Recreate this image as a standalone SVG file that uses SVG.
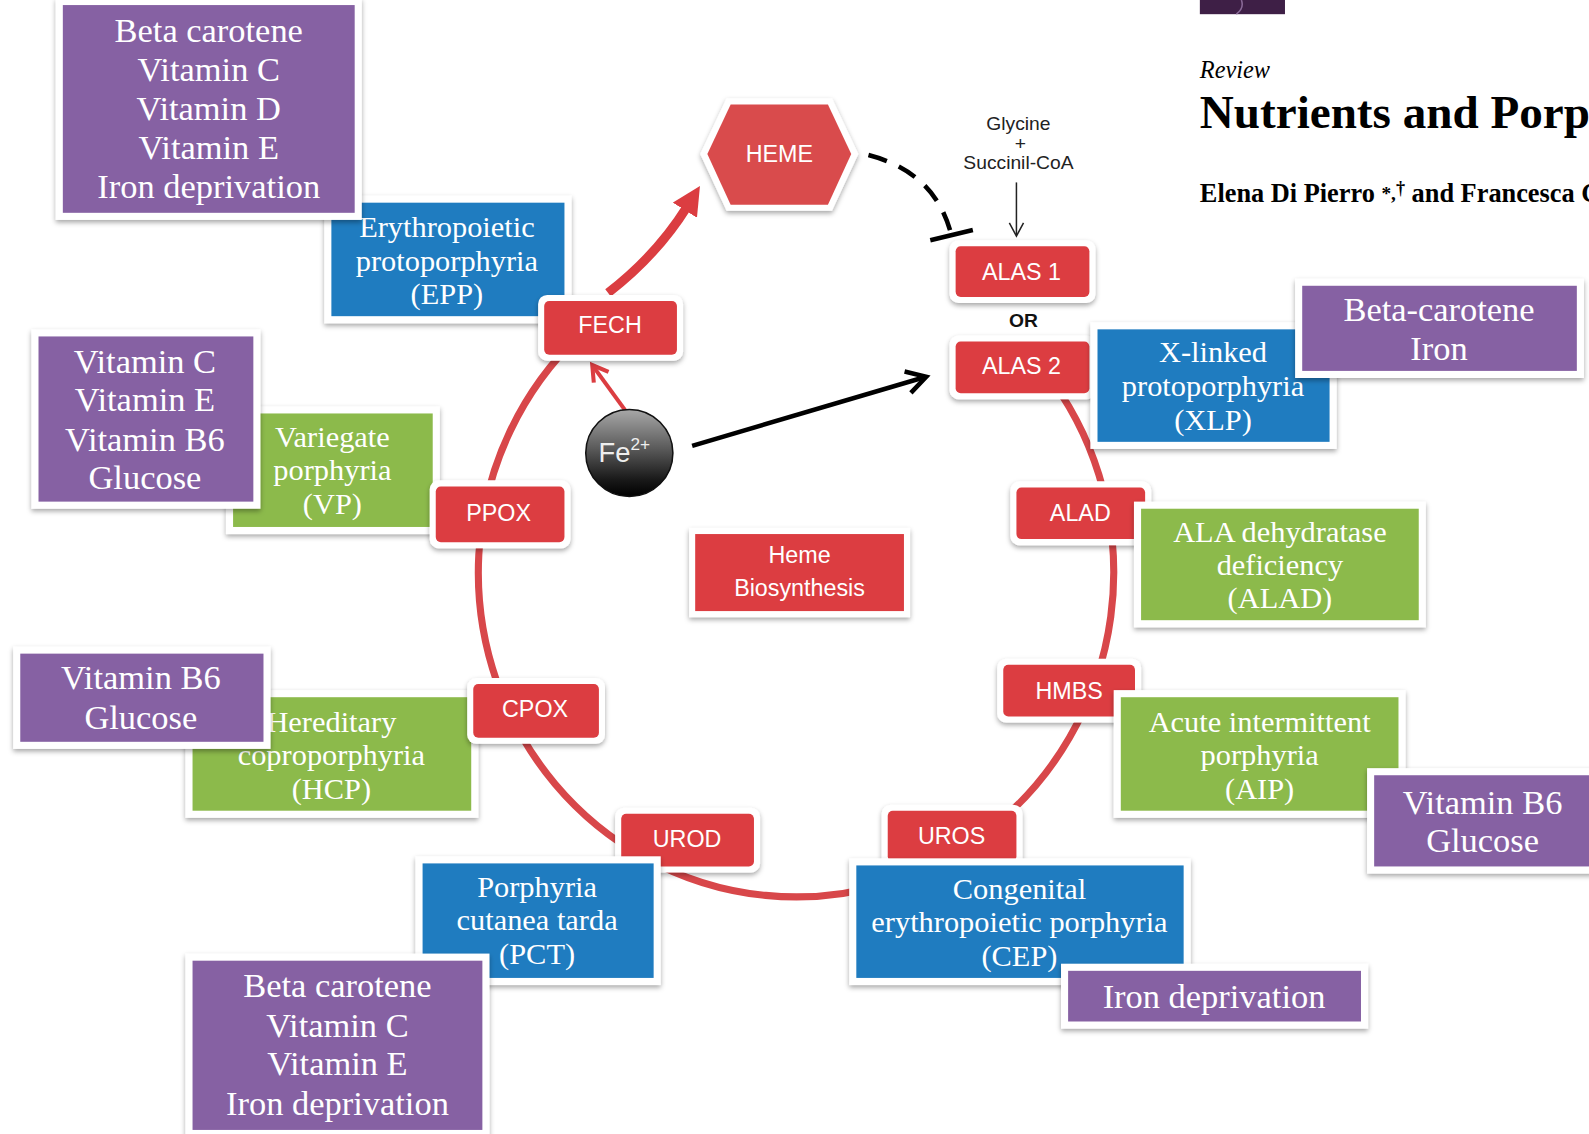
<svg xmlns="http://www.w3.org/2000/svg" width="1589" height="1134" viewBox="0 0 1589 1134">
<defs>
<style>
.fr{fill:#fff;filter:url(#sh)}
.pu{fill:#8661a3}
.bl{fill:#1f7cc0}
.gr{fill:#8cba4b}
.rd{fill:#dc3d41}
.ts{font-family:"Liberation Serif",serif;fill:#fff;text-anchor:middle;font-size:30px}
.tp{font-family:"Liberation Serif",serif;fill:#fff;text-anchor:middle;font-size:34px}
.tr{font-family:"Liberation Sans",sans-serif;fill:#fff;text-anchor:middle;font-size:23px}
.tk{font-family:"Liberation Sans",sans-serif;fill:#222;text-anchor:middle;font-size:19px}
.hd{font-family:"Liberation Serif",serif;fill:#000}
</style>
<filter id="sh" x="-10%" y="-15%" width="120%" height="135%">
<feDropShadow dx="0" dy="2.5" stdDeviation="2.5" flood-color="#000" flood-opacity="0.35"/>
</filter>
<linearGradient id="fe" x1="0" y1="0" x2="0" y2="1">
<stop offset="0" stop-color="#a8a8a8"/>
<stop offset="0.45" stop-color="#5a5a5a"/>
<stop offset="0.8" stop-color="#1a1a1a"/>
<stop offset="1" stop-color="#000"/>
</linearGradient>
<marker id="redHead" markerUnits="userSpaceOnUse" markerWidth="30" markerHeight="30" refX="4" refY="14" orient="auto">
<path d="M0,0 L28,14 L0,28 z" fill="#db3d41"/>
</marker>
<marker id="redChev" markerUnits="userSpaceOnUse" markerWidth="24" markerHeight="24" refX="17" refY="11" orient="auto">
<path d="M3,2 L18,11 L3,20" fill="none" stroke="#db3d41" stroke-width="4"/>
</marker>
<marker id="blkChev" markerUnits="userSpaceOnUse" markerWidth="28" markerHeight="28" refX="21" refY="13" orient="auto">
<path d="M3,2 L22,13 L3,24" fill="none" stroke="#000" stroke-width="4.5"/>
</marker>
<marker id="thinChev" markerUnits="userSpaceOnUse" markerWidth="16" markerHeight="16" refX="13" refY="8" orient="auto">
<path d="M1,1 L14,8 L1,15" fill="none" stroke="#222" stroke-width="1.5"/>
</marker>
</defs>
<rect width="1589" height="1134" fill="#fff"/>
<g transform="scale(1.01339)">

<g id="header">
<rect x="1184" y="0" width="84" height="14" fill="#3e1f46"/>
<path d="M1225,0 Q1228,8 1220,14" fill="none" stroke="#8a6a98" stroke-width="1.5"/>
<text class="hd" x="1184" y="77" font-size="24" font-style="italic">Review</text>
<text class="hd" x="1184" y="126" font-size="46.5" font-weight="bold">Nutrients and Porp</text>
<text class="hd" x="1184" y="199" font-size="26" font-weight="bold">Elena Di Pierro <tspan font-size="19" dy="-2">*,</tspan><tspan font-size="18" dy="-6">†</tspan><tspan dy="8"> and Francesca G</tspan></text>
</g>

<g id="connectors">
<path id="ring" d="M1039.1,376.9 A313.5,320 0 1 1 571.7,331" fill="none" stroke="#d8474a" stroke-width="7"/>
<path id="fech-heme" d="M600,289 Q648,252 678,204" fill="none" stroke="#db3d41" stroke-width="9" marker-end="url(#redHead)"/>
<path id="fe-fech" d="M617,405 L585,361" fill="none" stroke="#db3d41" stroke-width="4" marker-end="url(#redChev)"/>
<path id="fe-alas2" d="M683,440 L913,372" fill="none" stroke="#000" stroke-width="4.5" marker-end="url(#blkChev)"/>
<path id="gly-alas1" d="M1003,180 L1003,232" fill="none" stroke="#222" stroke-width="1.5" marker-end="url(#thinChev)"/>
<path id="heme-inhib" d="M857,153 Q922,170 938,229" fill="none" stroke="#000" stroke-width="4.5" stroke-dasharray="19 13"/>
<path id="tee" d="M918,237 L960,227" fill="none" stroke="#000" stroke-width="4.5"/>
</g>

<g id="heme">
<polygon points="691,152 717,97 821,97 847,152 821,208 717,208" class="fr"/>
<polygon points="698,152 721,103 817,103 840,152 817,202 721,202" fill="#d94b4c"/>
<text class="tr" x="769" y="160">HEME</text>
</g>

<g id="glycine">
<text class="tk" x="1005" y="128">Glycine</text>
<text class="tk" x="1007" y="148" font-size="16">+</text>
<text class="tk" x="1005" y="167">Succinil-CoA</text>
</g>

<g id="epp">
<rect class="fr" x="320" y="193" width="244" height="126"/>
<rect class="bl" x="327" y="200" width="230" height="112"/>
<text class="ts" x="441" y="234">Erythropoietic</text>
<text class="ts" x="441" y="267">protoporphyria</text>
<text class="ts" x="441" y="300">(EPP)</text>
</g>

<g id="nut-epp">
<rect class="fr" x="55" y="-2" width="302" height="219"/>
<rect class="pu" x="62" y="5" width="288" height="205"/>
<text class="tp" x="206" y="41">Beta carotene</text>
<text class="tp" x="206" y="80">Vitamin C</text>
<text class="tp" x="206" y="118">Vitamin D</text>
<text class="tp" x="206" y="157">Vitamin E</text>
<text class="tp" x="206" y="195">Iron deprivation</text>
</g>

<g id="fech">
<rect class="fr" x="531" y="291" width="143" height="65" rx="9"/>
<rect class="rd" x="537" y="297" width="131" height="53" rx="5"/>
<text class="tr" x="602" y="329">FECH</text>
</g>

<g id="alas1">
<rect class="fr" x="937" y="237" width="144" height="62" rx="9"/>
<rect class="rd" x="943" y="243" width="132" height="50" rx="5"/>
<text class="tr" x="1008" y="276">ALAS 1</text>
</g>

<text id="or" x="1010" y="323" font-family="Liberation Sans, sans-serif" font-size="19" font-weight="bold" fill="#111" text-anchor="middle">OR</text>

<g id="alas2">
<rect class="fr" x="937" y="331" width="144" height="63" rx="9"/>
<rect class="rd" x="943" y="337" width="132" height="51" rx="5"/>
<text class="tr" x="1008" y="369">ALAS 2</text>
</g>

<g id="xlp">
<rect class="fr" x="1076" y="318" width="243" height="125"/>
<rect class="bl" x="1083" y="325" width="229" height="111"/>
<text class="ts" x="1197" y="357">X-linked</text>
<text class="ts" x="1197" y="391">protoporphyria</text>
<text class="ts" x="1197" y="424">(XLP)</text>
</g>

<g id="nut-xlp">
<rect class="fr" x="1278" y="275" width="285" height="98"/>
<rect class="pu" x="1285" y="282" width="271" height="84"/>
<text class="tp" x="1420" y="317">Beta-carotene</text>
<text class="tp" x="1420" y="355">Iron</text>
</g>

<g id="vp">
<rect class="fr" x="223" y="401" width="211" height="126"/>
<rect class="gr" x="230" y="408" width="197" height="112"/>
<text class="ts" x="328" y="441">Variegate</text>
<text class="ts" x="328" y="474">porphyria</text>
<text class="ts" x="328" y="507">(VP)</text>
</g>

<g id="nut-vp">
<rect class="fr" x="31" y="325" width="226" height="177"/>
<rect class="pu" x="38" y="332" width="212" height="163"/>
<text class="tp" x="143" y="368">Vitamin C</text>
<text class="tp" x="143" y="406">Vitamin E</text>
<text class="tp" x="143" y="445">Vitamin B6</text>
<text class="tp" x="143" y="483">Glucose</text>
</g>

<g id="ppox">
<rect class="fr" x="424" y="474" width="139" height="67" rx="9"/>
<rect class="rd" x="430" y="480" width="127" height="55" rx="5"/>
<text class="tr" x="492" y="514">PPOX</text>
</g>

<g id="fe2">
<circle cx="621" cy="447" r="43" fill="url(#fe)" stroke="#111" stroke-width="1.5"/>
<text x="616" y="456" font-family="Liberation Sans, sans-serif" font-size="27" fill="#eee" text-anchor="middle">Fe<tspan font-size="17" dy="-12">2+</tspan></text>
</g>

<g id="heme-bio">
<rect class="fr" x="680" y="521" width="218" height="88"/>
<rect class="rd" x="686" y="527" width="206" height="76"/>
<text class="tr" x="789" y="556" font-size="22">Heme</text>
<text class="tr" x="789" y="588" font-size="22">Biosynthesis</text>
</g>

<g id="hcp">
<rect class="fr" x="183" y="681" width="289" height="126"/>
<rect class="gr" x="190" y="688" width="275" height="112"/>
<text class="ts" x="327" y="722">Hereditary</text>
<text class="ts" x="327" y="755">coproporphyria</text>
<text class="ts" x="327" y="788">(HCP)</text>
</g>

<g id="nut-hcp">
<rect class="fr" x="13" y="638" width="254" height="101"/>
<rect class="pu" x="20" y="645" width="240" height="87"/>
<text class="tp" x="139" y="680">Vitamin B6</text>
<text class="tp" x="139" y="719">Glucose</text>
</g>

<g id="cpox">
<rect class="fr" x="461" y="669" width="136" height="65" rx="9"/>
<rect class="rd" x="467" y="675" width="124" height="53" rx="5"/>
<text class="tr" x="528" y="708">CPOX</text>
</g>

<g id="urod">
<rect class="fr" x="607" y="797" width="143" height="64" rx="9"/>
<rect class="rd" x="613" y="803" width="131" height="52" rx="5"/>
<text class="tr" x="678" y="836">UROD</text>
</g>

<g id="pct">
<rect class="fr" x="410" y="845" width="242" height="127"/>
<rect class="bl" x="417" y="852" width="228" height="113"/>
<text class="ts" x="530" y="885">Porphyria</text>
<text class="ts" x="530" y="918">cutanea tarda</text>
<text class="ts" x="530" y="951">(PCT)</text>
</g>

<g id="nut-pct">
<rect class="fr" x="183" y="941" width="300" height="181"/>
<rect class="pu" x="190" y="948" width="286" height="167"/>
<text class="tp" x="333" y="984">Beta carotene</text>
<text class="tp" x="333" y="1023">Vitamin C</text>
<text class="tp" x="333" y="1061">Vitamin E</text>
<text class="tp" x="333" y="1100">Iron deprivation</text>
</g>

<g id="uros">
<rect class="fr" x="870" y="794" width="139" height="62" rx="9"/>
<rect class="rd" x="876" y="800" width="127" height="50" rx="5"/>
<text class="tr" x="939" y="833">UROS</text>
</g>

<g id="cep">
<rect class="fr" x="838" y="847" width="337" height="125"/>
<rect class="bl" x="845" y="854" width="323" height="111"/>
<text class="ts" x="1006" y="887">Congenital</text>
<text class="ts" x="1006" y="920">erythropoietic porphyria</text>
<text class="ts" x="1006" y="953">(CEP)</text>
</g>

<g id="nut-cep">
<rect class="fr" x="1047" y="951" width="303" height="64"/>
<rect class="pu" x="1054" y="958" width="289" height="50"/>
<text class="tp" x="1198" y="995">Iron deprivation</text>
</g>

<g id="hmbs">
<rect class="fr" x="984" y="650" width="142" height="63" rx="9"/>
<rect class="rd" x="990" y="656" width="130" height="51" rx="5"/>
<text class="tr" x="1055" y="690">HMBS</text>
</g>

<g id="aip">
<rect class="fr" x="1099" y="681" width="288" height="126"/>
<rect class="gr" x="1106" y="688" width="274" height="112"/>
<text class="ts" x="1243" y="722">Acute intermittent</text>
<text class="ts" x="1243" y="755">porphyria</text>
<text class="ts" x="1243" y="788">(AIP)</text>
</g>

<g id="nut-aip">
<rect class="fr" x="1349" y="758" width="244" height="104"/>
<rect class="pu" x="1356" y="765" width="230" height="90"/>
<text class="tp" x="1463" y="803">Vitamin B6</text>
<text class="tp" x="1463" y="841">Glucose</text>
</g>

<g id="alad">
<rect class="fr" x="997" y="475" width="139" height="63" rx="9"/>
<rect class="rd" x="1003" y="481" width="127" height="51" rx="5"/>
<text class="tr" x="1066" y="514">ALAD</text>
</g>

<g id="alad-def">
<rect class="fr" x="1119" y="495" width="288" height="124"/>
<rect class="gr" x="1126" y="502" width="274" height="110"/>
<text class="ts" x="1263" y="535">ALA dehydratase</text>
<text class="ts" x="1263" y="567">deficiency</text>
<text class="ts" x="1263" y="600">(ALAD)</text>
</g>

</g>
</svg>
